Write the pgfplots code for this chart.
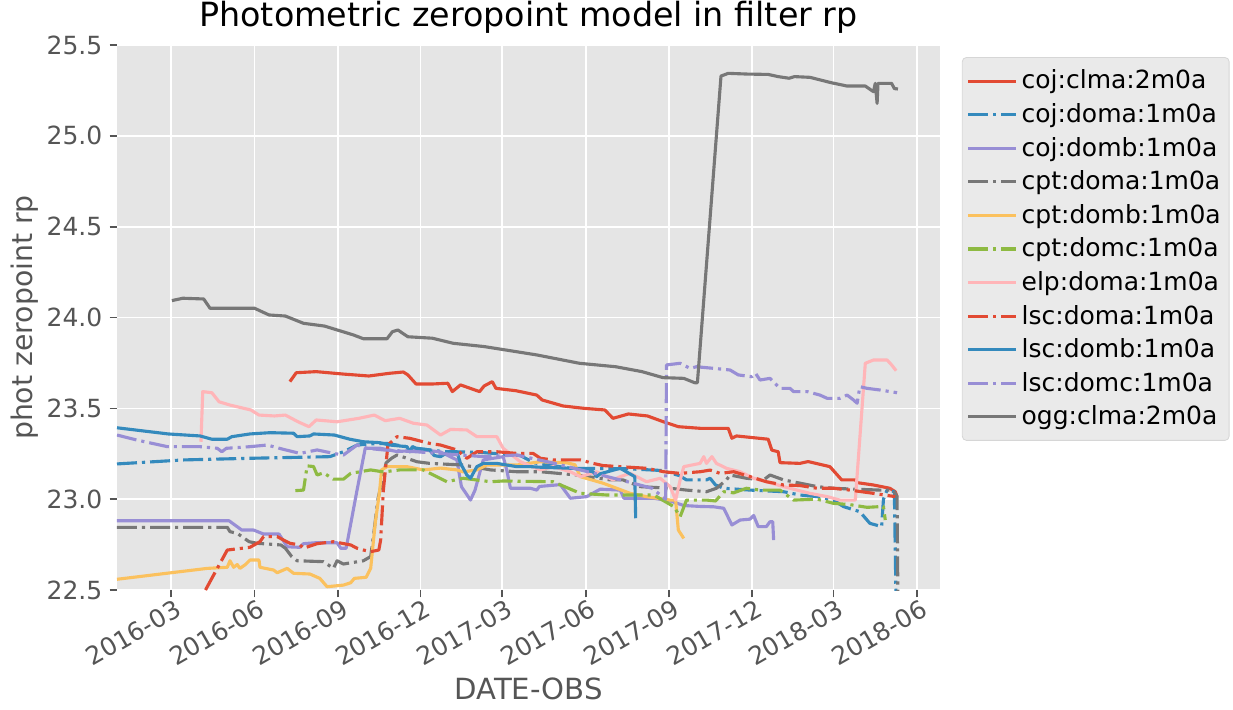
\documentclass[border=0pt]{standalone}
\usepackage{pgfplots}
\pgfplotsset{compat=1.18}
\usepackage{fontspec}
\setmainfont{DejaVu Sans}
\definecolor{cR}{HTML}{E24A33}
\definecolor{cB}{HTML}{348ABD}
\definecolor{cP}{HTML}{988ED5}
\definecolor{cG}{HTML}{777777}
\definecolor{cY}{HTML}{FBC15E}
\definecolor{cGr}{HTML}{8EBA42}
\definecolor{cPk}{HTML}{FFB5B8}
\definecolor{bgg}{HTML}{E5E5E5}
\definecolor{tickc}{HTML}{555555}
\definecolor{legbg}{HTML}{EAEAEA}
\definecolor{legedge}{HTML}{D6D6D6}
\pgfplotsset{
  sl/.style={line width=1.5pt, line join=round},
  dd/.style={line width=1.5pt, line join=round, dash pattern=on 9.6pt off 2.4pt on 1.5pt off 2.4pt},
}
\begin{document}
\begin{tikzpicture}
\useasboundingbox (-56.16pt,-57.12pt) rectangle (535.68pt,283.2pt);
\begin{axis}[
  at={(0,0)}, anchor=south west,
  scale only axis, width=395.04pt, height=261.6pt,
  xmin=0.5, xmax=907.3, ymin=22.5, ymax=25.5,
  axis background/.style={fill=bgg},
  axis line style={draw=none},
  grid=major, major grid style={white, line width=0.8pt},
  tick align=outside, xtick pos=lower, ytick pos=left,
  major tick length=3.5pt,
  tick style={tickc, line width=0.8pt},
  xtick={60,152,244,335,425,517,609,700,790,882},
  xticklabels={2016-03,2016-06,2016-09,2016-12,2017-03,2017-06,2017-09,2017-12,2018-03,2018-06},
  ytick={22.5,23,23.5,24,24.5,25,25.5},
  yticklabel style={/pgf/number format/.cd, fixed, fixed zerofill, precision=1},
  /pgf/number format/assume math mode=true,
  tick label style={font=\fontsize{12}{14}\selectfont, text=tickc},
  xticklabel style={rotate=30, anchor=north east, inner sep=1pt, xshift=2pt},
  title={Photometric zeropoint model in filter rp},
  title style={font=\fontsize{16}{19}\selectfont, yshift=-4pt},
  xlabel={DATE-OBS},
  ylabel={phot zeropoint rp},
  label style={font=\fontsize{14}{17}\selectfont, text=tickc},
  ylabel style={font=\fontsize{13.6}{16}\selectfont, yshift=-3pt},
  legend style={at={(1,1)}, anchor=north west, xshift=10.5pt, yshift=-5.8pt,
    fill=legbg, draw=legedge, rounded corners=2pt, font=\fontsize{12}{14}\selectfont,
    row sep=1.5pt, inner xsep=2pt, inner ysep=4pt},
  legend cell align=left,
  legend image code/.code={\draw[#1] (0pt,0pt) -- (23pt,0pt);},
]
% coj:clma:2m0a
\addplot[sl, cR] coordinates {
(191,23.647) (198,23.696) (220,23.702) (249,23.689) (278,23.678) (301,23.693) (316,23.700) (321,23.684)
(330,23.634) (348,23.634) (365,23.638) (370,23.592) (379,23.629) (400,23.592) (405,23.623) (414,23.647)
(418,23.610) (440,23.597) (463,23.573) (469,23.546) (492,23.513) (515,23.500) (538,23.491) (547,23.445)
(564,23.469) (585,23.458) (602,23.427) (619,23.399) (643,23.390) (674,23.390) (678,23.335) (683,23.348)
(718,23.330) (722,23.270) (729,23.261) (731,23.201) (753,23.197) (762,23.207) (786,23.179) (799,23.106)
(814,23.106) (816,23.091) (834,23.078) (852,23.060) (858,23.041) (860,23.014)};
\addlegendentry{coj:clma:2m0a}
% coj:doma:1m0a
\addplot[dd, cB] coordinates {
(0.5,23.194) (74,23.216) (147,23.225) (235,23.234) (250,23.261) (265,23.298) (280,23.304) (298,23.307)
(330,23.280) (360,23.262) (400,23.258) (445,23.240) (460,23.200) (500,23.170) (560,23.168) (600,23.158)
(620,23.130) (628,23.106) (650,23.106) (654,23.115) (660,23.078) (669,23.060) (698,23.050) (735,23.041)
(753,23.023) (772,23.014) (790,22.995) (801,22.959) (819,22.931) (830,22.867) (843,22.849) (845,23.000)
(849,23.050) (857,23.041) (859,22.400)};
\addlegendentry{coj:doma:1m0a}
% coj:domb:1m0a
\addplot[sl, cP] coordinates {
(0.5,22.881) (124,22.881) (138,22.830) (151,22.830) (162,22.808) (179,22.808) (188,22.738) (202,22.735)
(206,22.755) (219,22.760) (243,22.760) (247,22.730) (253,22.730) (265,23.050) (274,23.280) (291,23.280)
(309,23.262) (338,23.271) (357,23.260) (375,23.216) (380,23.069) (390,22.995) (395,23.050) (404,23.216)
(426,23.234) (430,23.160) (434,23.060) (456,23.060) (463,23.050) (466,23.070) (489,23.080) (500,23.005)
(518,23.014) (533,23.055) (555,23.050) (559,23.005) (592,23.005) (610,22.990) (625,22.965) (643,22.960)
(658,22.958) (669,22.950) (678,22.858) (687,22.885) (698,22.890) (702,22.910) (707,22.849) (716,22.849)
(720,22.876) (723,22.876) (724,22.775)};
\addlegendentry{coj:domb:1m0a}
% cpt:doma:1m0a
\addplot[dd, cG] coordinates {
(0.5,22.845) (122,22.845) (125,22.821) (133,22.812) (146,22.766) (155,22.757) (181,22.748) (186,22.730)
(193,22.684) (199,22.661) (228,22.656) (239,22.619) (243,22.661) (250,22.643) (272,22.661) (280,22.684)
(283,22.794) (288,23.000) (297,23.200) (303,23.225) (309,23.243) (320,23.225) (331,23.206) (345,23.197)
(382,23.188) (412,23.161) (441,23.151) (467,23.151) (507,23.133) (544,23.106) (558,23.106) (577,23.069)
(610,23.060) (628,23.050) (650,23.041) (661,23.060) (672,23.106) (676,23.133) (694,23.115) (713,23.106)
(720,23.133) (735,23.106) (753,23.088) (772,23.069) (790,23.060) (808,23.056) (841,23.050) (856,23.050)
(860,23.014) (861,22.400)};
\addlegendentry{cpt:doma:1m0a}
% cpt:domb:1m0a
\addplot[sl, cY] coordinates {
(0.5,22.559) (100,22.619) (122,22.625) (125,22.661) (129,22.625) (133,22.640) (136,22.619) (142,22.640)
(147,22.665) (157,22.665) (158,22.625) (173,22.610) (177,22.595) (188,22.619) (195,22.592) (213,22.588)
(224,22.564) (232,22.518) (250,22.527) (258,22.540) (262,22.564) (275,22.570) (280,22.619) (285,22.867)
(290,23.050) (292,23.161) (298,23.179) (320,23.179) (338,23.161) (357,23.171) (375,23.161) (382,23.150)
(397,23.161) (408,23.188) (441,23.188) (467,23.206) (496,23.200) (505,23.190) (511,23.124) (536,23.088)
(566,23.032) (584,23.014) (610,22.995) (616,22.995) (619,22.830) (625,22.784)};
\addlegendentry{cpt:domb:1m0a}
% cpt:domc:1m0a
\addplot[dd, cGr] coordinates {
(197,23.047) (206,23.050) (210,23.183) (217,23.180) (221,23.133) (228,23.145) (239,23.110) (250,23.110)
(258,23.142) (280,23.161) (294,23.150) (312,23.161) (338,23.161) (349,23.133) (364,23.096) (382,23.115)
(412,23.096) (426,23.100) (481,23.096) (511,23.032) (540,23.023) (592,23.023) (614,22.959) (621,22.904)
(628,22.995) (650,22.995) (660,22.990) (669,23.041) (680,23.035) (694,23.060) (709,23.050) (731,23.050)
(746,22.995) (772,23.000) (790,22.977) (808,22.970) (827,22.955) (845,22.960) (847,22.885)};
\addlegendentry{cpt:domc:1m0a}
% elp:doma:1m0a
\addplot[sl, cPk] coordinates {
(93,23.316) (95,23.592) (105,23.586) (113,23.536) (125,23.518) (148,23.491) (157,23.463) (174,23.458)
(186,23.463) (200,23.426) (212,23.399) (220,23.436) (243,23.426) (267,23.445) (284,23.463) (296,23.432)
(312,23.445) (327,23.418) (342,23.408) (357,23.353) (368,23.384) (386,23.381) (397,23.344) (419,23.344)
(426,23.280) (445,23.206) (467,23.161) (481,23.179) (500,23.151) (511,23.124) (529,23.151) (547,23.106)
(555,23.124) (566,23.142) (584,23.096) (599,23.115) (610,23.069) (616,22.995) (621,23.106) (625,23.179)
(643,23.197) (647,23.234) (650,23.197) (656,23.234) (661,23.197) (672,23.170) (687,23.151) (702,23.115)
(716,23.096) (735,23.069) (764,23.032) (783,23.014) (797,22.995) (814,22.995) (825,23.748) (834,23.766)
(849,23.766) (854,23.739) (859,23.707)};
\addlegendentry{elp:doma:1m0a}
% lsc:doma:1m0a
\addplot[dd, cR] coordinates {
(98,22.500) (122,22.720) (147,22.735) (158,22.766) (162,22.794) (177,22.794) (184,22.775) (191,22.757)
(202,22.748) (206,22.730) (221,22.755) (239,22.766) (258,22.748) (265,22.730) (272,22.720) (280,22.711)
(289,22.720) (291,22.775) (294,23.050) (299,23.298) (309,23.344) (323,23.335) (345,23.307) (357,23.298)
(375,23.271) (386,23.225) (397,23.261) (419,23.261) (441,23.252) (459,23.252) (467,23.225) (481,23.216)
(511,23.216) (525,23.197) (536,23.185) (555,23.179) (584,23.170) (603,23.151) (621,23.142) (643,23.151)
(654,23.160) (665,23.142) (680,23.151) (698,23.124) (716,23.096) (735,23.078) (753,23.075) (772,23.060)
(790,23.060) (808,23.050) (834,23.032) (858,23.014)};
\addlegendentry{lsc:doma:1m0a}
% lsc:domb:1m0a
\addplot[sl, cB] coordinates {
(0.5,23.393) (57,23.359) (92,23.348) (105,23.330) (122,23.330) (127,23.344) (147,23.359) (169,23.366)
(195,23.363) (199,23.344) (213,23.348) (217,23.359) (240,23.353) (257,23.330) (272,23.316) (290,23.311)
(301,23.298) (320,23.289) (323,23.260) (326,23.290) (330,23.280) (345,23.271) (350,23.240) (357,23.234)
(366,23.262) (375,23.261) (379,23.197) (386,23.133) (390,23.115) (397,23.179) (404,23.197) (419,23.197)
(441,23.179) (456,23.179) (470,23.175) (503,23.170) (525,23.151) (529,23.124) (533,23.140) (555,23.170)
(571,23.124) (572,22.895)};
\addlegendentry{lsc:domb:1m0a}
% lsc:domc:1m0a
\addplot[dd, cP] coordinates {
(0.5,23.353) (22,23.326) (56,23.289) (92,23.289) (111,23.280) (116,23.261) (121,23.280) (147,23.289)
(166,23.298) (184,23.274) (202,23.252) (221,23.271) (239,23.252) (250,23.243) (265,23.298) (276,23.280)
(294,23.271) (330,23.261) (360,23.250) (405,23.234) (441,23.243) (480,23.200) (520,23.150) (560,23.100)
(590,23.060) (605,23.000) (606,23.739) (621,23.748) (632,23.720) (639,23.729) (658,23.720) (676,23.711)
(685,23.684) (700,23.674) (704,23.693) (709,23.656) (720,23.665) (731,23.610) (742,23.610) (746,23.592)
(761,23.592) (775,23.573) (783,23.555) (797,23.555) (805,23.573) (812,23.546) (816,23.528) (819,23.619)
(827,23.610) (841,23.601) (860,23.586)};
\addlegendentry{lsc:domc:1m0a}
% ogg:clma:2m0a
\addplot[sl, cG] coordinates {
(61,24.093) (73,24.106) (96,24.102) (103,24.051) (152,24.051) (168,24.014) (186,24.008) (206,23.968)
(229,23.953) (261,23.904) (272,23.883) (298,23.883) (304,23.922) (310,23.931) (321,23.894) (348,23.886)
(371,23.858) (405,23.840) (429,23.821) (463,23.794) (510,23.748) (550,23.729) (579,23.702) (602,23.669)
(625,23.665) (637,23.641) (640,23.641) (666,25.329) (674,25.344) (695,25.340) (718,25.338) (729,25.326)
(741,25.317) (747,25.326) (764,25.322) (787,25.293) (805,25.274) (825,25.274) (834,25.243) (836,25.289)
(838,25.179) (839,25.289) (854,25.289) (857,25.260) (861,25.258)};
\addlegendentry{ogg:clma:2m0a}
\end{axis}
\end{tikzpicture}
\end{document}
